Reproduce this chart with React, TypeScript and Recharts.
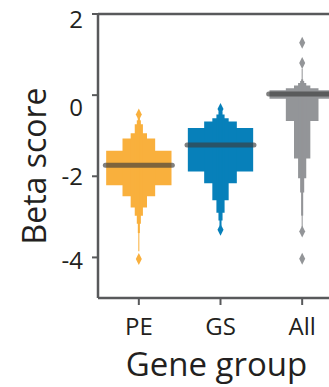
import { ComposedChart, XAxis, YAxis, ReferenceArea, ReferenceLine, Scatter, Label } from "recharts"

const groups = ["PE", "GS", "All"]
const yTicks = [-4, -2, 0, 2]

// median per group
const medians = [-1.73, -1.23, 0.03]

// letter-value boxes, widest level first: [low, high]
const peLevels = [
  [-2.22, -1.37],
  [-2.49, -1.07],
  [-2.77, -0.94],
  [-2.97, -0.72],
  [-3.17, -0.62],
  [-3.4, -0.56],
  [-3.85, -0.52],
]
const gsLevels = [
  [-1.88, -0.81],
  [-2.17, -0.65],
  [-2.59, -0.57],
  [-2.9, -0.48],
  [-3.09, -0.4],
  [-3.22, -0.37],
]
const allLevels = [
  [-0.09, 0.12],
  [-0.64, 0.17],
  [-1.56, 0.24],
  [-2.05, 0.3],
  [-2.4, 0.35],
  [-2.97, 0.39],
  [-3.25, 0.65],
]

const peOutliers = [-0.48, -4.04]
const gsOutliers = [-0.34, -3.32]
const allOutliers = [1.29, 0.79, -3.36, -4.03]

const levels = [peLevels, gsLevels, allLevels]
const outliers = [peOutliers, gsOutliers, allOutliers]

const palette = ["#F9B03D", "#0780BA", "#939598"]
const axisColor = "#58595b"
const textColor = "#231f20"
const font = "Open Sans"

const BOX_WIDTH = 0.8

const Diamond = (props: any) => {
  const { cx, cy, fill } = props
  if (cx == null || cy == null) return null
  return <path d={`M${cx},${cy - 6}L${cx + 3},${cy}L${cx},${cy + 6}L${cx - 3},${cy}Z`} fill={fill} />
}

const yLabelShift: Record<string, number> = { "2": 5, "0": 12, "-2": 0, "-4": 3 }

const YTick = (props: any) => {
  const { x, y, payload } = props
  const shift = yLabelShift[String(payload.value)] ?? 0
  return (
    <text x={x} y={y + shift} dy="0.36em" textAnchor="end" fontSize={24} fontFamily={font} fill={textColor}>
      {payload.value}
    </text>
  )
}

const XTick = (props: any) => {
  const { x, y, payload } = props
  return (
    <text x={x} y={y} dy="0.72em" textAnchor="middle" fontSize={24} fontFamily={font} fill={textColor}>
      {groups[payload.value]}
    </text>
  )
}

export default function App() {
  return (
    <div style={{ position: "fixed", left: 0, top: 0, width: 329, height: 387, overflow: "hidden", background: "#fff" }}>
      <ComposedChart width={350} height={387} margin={{ top: 14, right: 7, bottom: 0, left: 0 }}>
        <XAxis
          type="number"
          dataKey="x"
          domain={[-0.5, 2.5]}
          ticks={[0, 1, 2]}
          allowDataOverflow
          height={89}
          tickSize={7}
          tickMargin={13}
          tick={<XTick />}
          axisLine={{ stroke: axisColor, strokeWidth: 2.5 }}
          tickLine={{ stroke: axisColor, strokeWidth: 2 }}
        >
          <Label
            content={(p: any) => {
              const vb = p.viewBox
              return (
                <text x={vb.x + vb.width / 2 - 4} y={376} textAnchor="middle" fontSize={33} fontFamily={font} fill={textColor}>
                  Gene group
                </text>
              )
            }}
          />
        </XAxis>
        <YAxis
          type="number"
          dataKey="y"
          domain={[-5, 2]}
          ticks={yTicks}
          allowDataOverflow
          width={98}
          tickSize={6}
          tickMargin={9}
          tick={<YTick />}
          axisLine={{ stroke: axisColor, strokeWidth: 2.5 }}
          tickLine={{ stroke: axisColor, strokeWidth: 2 }}
        >
          <Label
            content={(p: any) => {
              const vb = p.viewBox
              const cx = 46
              const cy = vb.y + vb.height / 2 + 10
              return (
                <text
                  x={cx}
                  y={cy}
                  transform={`rotate(-90, ${cx}, ${cy})`}
                  textAnchor="middle"
                  fontSize={32}
                  fontFamily={font}
                  fill={textColor}
                >
                  Beta score
                </text>
              )
            }}
          />
        </YAxis>
        <ReferenceLine y={2} stroke={axisColor} strokeWidth={2.5} ifOverflow="visible" />
        {levels.map((lv, g) =>
          lv.map(([lo, hi], k) => {
            const half = (BOX_WIDTH * Math.pow(0.5, k)) / 2
            return (
              <ReferenceArea
                key={`${g}-${k}`}
                x1={g - half}
                x2={g + half}
                y1={lo}
                y2={hi}
                fill={palette[g]}
                fillOpacity={1}
                stroke="none"
                ifOverflow="visible"
              />
            )
          })
        )}
        {medians.map((m, g) => (
          <ReferenceLine
            key={`med-${g}`}
            segment={[
              { x: g - BOX_WIDTH / 2 - 0.01, y: m },
              { x: g + BOX_WIDTH / 2 + 0.01, y: m },
            ]}
            stroke="#3c3c3c"
            strokeOpacity={0.65}
            strokeWidth={5}
            strokeLinecap="round"
            ifOverflow="visible"
          />
        ))}
        {outliers.map((vals, g) => (
          <Scatter
            key={`out-${g}`}
            data={vals.map((v) => ({ x: g, y: v }))}
            fill={palette[g]}
            shape={<Diamond />}
            isAnimationActive={false}
          />
        ))}
      </ComposedChart>
    </div>
  )
}
